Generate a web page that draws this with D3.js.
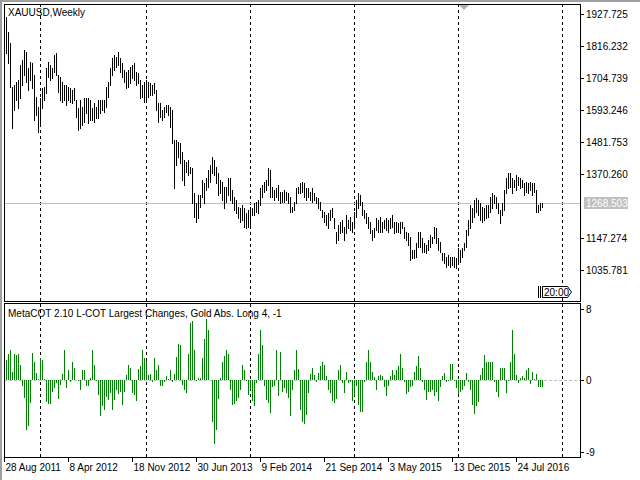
<!DOCTYPE html>
<html>
<head>
<meta charset="utf-8">
<script src="https://cdn.jsdelivr.net/npm/d3@7"></script>
<style>
  body { margin: 0; background: #fff; }
  svg text { font-family: "Liberation Sans", Arial, sans-serif; font-size: 10px; fill: #000; }
</style>
</head>
<body>
<svg id="chart" width="640" height="480"></svg>
<script>
// Weekly XAUUSD highs / lows, bar 0 = 28 Aug 2011
const highs = [1917,1865,1827,1673,1680,1691,1698,1750,1768,1802,1795,1740,1761,1757,1715,1639,1604,1635,1670,1673,
  1740,1761,1750,1740,1785,1792,1715,1708,1691,1680,1680,1673,1670,1663,1670,1628,1600,1628,1604,1635,
  1635,1635,1628,1600,1618,1604,1628,1628,1628,1628,1673,1691,1740,1774,1785,1778,1795,1774,1757,1733,
  1726,1733,1743,1750,1757,1726,1722,1698,1680,1691,1698,1691,1687,1680,1687,1663,1618,1618,1593,1604,
  1611,1611,1604,1593,1489,1489,1482,1478,1447,1419,1412,1419,1395,1391,1304,1269,1297,1297,1349,1339,
  1356,1384,1402,1430,1419,1395,1374,1349,1342,1325,1325,1356,1356,1315,1290,1280,1255,1252,1262,1252,
  1234,1245,1255,1252,1269,1273,1280,1322,1332,1342,1349,1391,1384,1325,1315,1322,1332,1308,1308,1315,
  1308,1304,1290,1255,1273,1322,1325,1339,1342,1339,1322,1322,1308,1322,1304,1290,1287,1273,1245,1238,
  1227,1234,1245,1252,1217,1168,1193,1203,1210,1186,1227,1210,1221,1203,1238,1280,1304,1297,1273,1245,
  1234,1221,1203,1175,1182,1217,1210,1221,1203,1210,1217,1210,1217,1227,1203,1203,1200,1203,1203,1186,
  1168,1165,1151,1106,1106,1130,1168,1168,1147,1130,1123,1140,1158,1151,1186,1182,1147,1133,1095,1095,
  1081,1088,1081,1081,1081,1078,1113,1106,1113,1130,1175,1210,1262,1252,1280,1287,1280,1269,1255,1252,
  1262,1262,1290,1304,1297,1290,1269,1245,1269,1315,1356,1374,1374,1356,1349,1367,1360,1356,1349,1339,
  1342,1339,1342,1339,1339,1315,1262,1269,1269];
const lows = [1792,1757,1673,1531,1593,1628,1600,1635,1680,1715,1691,1663,1698,1670,1558,1576,1517,1548,1600,1628,
  1653,1708,1698,1705,1726,1715,1656,1628,1621,1628,1611,1628,1621,1618,1628,1569,1524,1531,1541,1551,
  1583,1548,1558,1558,1551,1565,1565,1583,1593,1586,1604,1639,1680,1715,1733,1743,1750,1726,1708,1691,
  1670,1673,1687,1705,1698,1680,1687,1635,1639,1621,1628,1639,1646,1646,1653,1593,1551,1569,1558,1569,
  1586,1576,1534,1478,1322,1402,1430,1409,1349,1332,1377,1367,1374,1269,1221,1203,1217,1255,1290,1269,
  1315,1325,1342,1374,1367,1339,1297,1304,1280,1252,1273,1297,1280,1269,1245,1234,1217,1203,1210,1186,
  1182,1186,1182,1227,1227,1238,1234,1262,1290,1308,1315,1332,1290,1290,1280,1290,1280,1269,1273,1273,
  1280,1269,1238,1238,1245,1269,1304,1304,1308,1290,1280,1290,1280,1273,1280,1269,1252,1245,1221,1203,
  1193,1182,1210,1221,1182,1130,1140,1165,1168,1140,1165,1182,1175,1168,1182,1221,1252,1262,1227,1217,
  1200,1182,1165,1140,1151,1175,1168,1168,1168,1182,1175,1168,1182,1186,1165,1168,1168,1165,1182,1147,
  1140,1123,1071,1078,1078,1081,1116,1116,1099,1099,1095,1106,1116,1130,1147,1130,1106,1099,1071,1060,
  1046,1053,1046,1053,1046,1043,1060,1064,1081,1106,1116,1158,1182,1203,1221,1238,1227,1210,1203,1210,
  1217,1221,1238,1252,1269,1252,1234,1200,1227,1245,1304,1322,1325,1304,1325,1315,1332,1322,1325,1297,
  1308,1304,1315,1297,1308,1238,1238,1245,1255];
// MetaCOT Largest Changes, Gold Abs. Long
const cot = [2.5,3.3,3.75,1.0,3.3,3.1,3.25,1.9,-0.8,-2.2,-6.25,-5.8,-2.9,3.4,2.3,0.9,0.1,2.7,2.5,0.1,
  -2.7,-3.0,-3.0,-1.5,-1.0,-0.4,-2.4,-0.6,0.75,3.75,-1.0,1.2,-0.2,2.2,1.5,0,-0.1,-1.3,1.3,1.25,
  -0.75,-0.75,0.2,3.75,1.9,-0.1,-1.9,-4.5,-3.25,-3.7,-2.1,-2.5,-1.6,-3.75,-2.5,-1.25,-1.7,-1.5,-3.1,-1.5,
  0.6,1.9,1.5,-1.6,-1.9,-2.6,1.4,1.75,3.7,2.8,2.4,0.6,0.75,-0.2,2.7,1.2,1.9,-0.75,-0.8,-0.3,
  0.5,0.1,1.2,-0.2,0.8,2.9,4.5,4.4,-0.6,-1.25,-1.6,3.3,7.1,7.4,3.75,-0.1,0.3,0.2,2.8,5.1,
  7.6,6.2,0.05,-5.2,-8.0,-6.25,-2.4,0.2,2.3,3.0,3.7,3.25,-1.25,-3.1,-3.0,-2.6,-2.2,-1.25,1.9,1.3,
  -0.1,-1.9,-1.25,-2.6,-3.25,-0.4,3.3,6.3,4.4,-0.8,-2.5,-2.9,-4.1,-0.9,-0.8,3.8,-2.0,3.5,-1.5,-1.0,
  -1.6,-2.3,-4.5,-1.3,1.25,3.8,1.4,-3.8,-5.3,-5.5,-4.4,-1.6,0.75,1.5,0.6,-0.2,0.9,1.7,2.2,1.9,
  0.5,-1.3,-1.6,-2.6,-2.9,-2.4,1.25,1.9,-0.4,-1.6,1.0,-0.4,-0.2,-2.6,-2.0,-0.75,-3.1,-4.0,-4.0,-0.2,
  2.3,3.8,2.3,1.0,0.4,-1.3,0.5,0.6,0.5,-0.9,-2.0,-0.8,0.5,1.2,0.6,1.3,1.75,3.25,1.5,-0.3,
  -1.75,-1.5,-0.9,-0.75,1.0,1.7,3.0,1.5,-0.3,-1.3,-2.5,-1.5,-1.5,-1.3,-2.0,-1.5,-2.6,-0.9,0.5,0.9,
  -0.2,-0.1,2.0,2.0,-0.1,-1.0,-1.75,-1.5,-1.25,-0.8,0.9,-0.2,-1.2,-3.1,-4.2,-3.3,-2.7,0.6,1.5,3.1,
  2.3,2.3,2.2,2.3,-0.2,-1.5,-2.1,1.5,1.5,1.5,-1.6,-0.1,2.3,6.2,3.25,0.6,-0.4,0.2,0.5,0.3,
  1.3,1.5,-0.5,1.0,0.1,0.75,-0.9,-0.9,-0.9];
const dateLabels = ["28 Aug 2011","8 Apr 2012","18 Nov 2012","30 Jun 2013","9 Feb 2014",
  "21 Sep 2014","3 May 2015","13 Dec 2015","24 Jul 2016"];
const dateIdx = [0,32,64,96,128,160,192,224,256];
const gridIdx = [17,70,122,174,226,278];
const priceTicks = [1927.725,1816.232,1704.739,1593.246,1481.753,1370.260,1258.767,1147.274,1035.781];
const lastPrice = 1268.503;
const cotTicks = [[8.9,"8"],[0,"0"],[-9,"-9"]];

const svg = d3.select("#chart");
const L = 4, R = 580, T = 4, SEP = 302, B = 458;

const x = d3.scaleLinear().domain([0, 287]).range([6, 580]);
const y = d3.scaleLinear().domain([1035.781, 1927.725]).range([270, 14]);
const yc = d3.scaleLinear().domain([-9, 8]).range([452, 316]);
const px = i => Math.round(x(i)) + 0.5;

// window edge
svg.append("rect").attr("width", 640).attr("height", 480).attr("fill", "#fff");
svg.append("path").attr("d", "M1,480V1H640").attr("stroke", "#a0a0a0").attr("stroke-width", 2).attr("fill", "none");

// grid (year separators)
svg.append("g").selectAll("line").data(gridIdx).join("line")
  .attr("x1", d => px(d)).attr("x2", d => px(d)).attr("y1", T).attr("y2", B)
  .attr("stroke", "#000").attr("stroke-dasharray", "3,3");

// last price line
svg.append("line").attr("x1", L).attr("x2", R).attr("y1", Math.round(y(lastPrice)) + 0.5).attr("y2", Math.round(y(lastPrice)) + 0.5)
  .attr("stroke", "#c0c0c0");

// price bars
svg.append("g").selectAll("line").data(highs).join("line")
  .attr("x1", (d, i) => px(i)).attr("x2", (d, i) => px(i))
  .attr("y1", d => Math.round(y(d))).attr("y2", (d, i) => Math.round(y(lows[i])) + 1)
  .attr("stroke", "#000").attr("stroke-width", 1);

// cot zero line
svg.append("line").attr("x1", L).attr("x2", R).attr("y1", yc(0) + 0.5).attr("y2", yc(0) + 0.5)
  .attr("stroke", "#c0c0c0").attr("stroke-dasharray", "3,2");

// cot histogram
svg.append("g").selectAll("line").data(cot).join("line")
  .attr("x1", (d, i) => px(i)).attr("x2", (d, i) => px(i))
  .attr("y1", yc(0)).attr("y2", d => Math.round(yc(d)))
  .attr("stroke", "#008000").attr("stroke-width", 1);

// frames
svg.append("rect").attr("x", L + 0.5).attr("y", T + 0.5).attr("width", R - L).attr("height", SEP - T - 1)
  .attr("fill", "none").attr("stroke", "#000");
svg.append("rect").attr("x", L + 0.5).attr("y", SEP + 1.5).attr("width", R - L).attr("height", B - SEP - 2)
  .attr("fill", "none").attr("stroke", "#000");

// price axis
const pa = svg.append("g");
priceTicks.forEach(v => {
  if (Math.abs(v - lastPrice) < 15) return;
  const yy = Math.round(y(v)) + 0.5;
  pa.append("line").attr("x1", R).attr("x2", R + 4).attr("y1", yy).attr("y2", yy).attr("stroke", "#000");
  pa.append("text").attr("x", R + 6).attr("y", yy + 3.5).text(v.toFixed(3));
});
const ly = Math.round(y(lastPrice));
pa.append("rect").attr("x", R + 4).attr("y", ly - 6).attr("width", 44).attr("height", 12).attr("fill", "#c0c0c0");
pa.append("text").attr("x", R + 6).attr("y", ly + 4).style("fill", "#fff").text(lastPrice.toFixed(3));

// cot axis
cotTicks.forEach(([v, t]) => {
  const yy = Math.round(yc(v)) + 0.5;
  pa.append("line").attr("x1", R).attr("x2", R + 4).attr("y1", yy).attr("y2", yy).attr("stroke", "#000");
  pa.append("text").attr("x", R + 6).attr("y", yy + 3.5).text(t);
});

// date axis
dateIdx.forEach((d, k) => {
  const xx = px(d) - 2;
  pa.append("line").attr("x1", xx).attr("x2", xx).attr("y1", B).attr("y2", B + 4).attr("stroke", "#000");
  pa.append("text").attr("x", xx + 1).attr("y", 471).text(dateLabels[k]);
});

// titles
svg.append("text").attr("x", 8).attr("y", 16).text("XAUUSD,Weekly");
svg.append("text").attr("x", 8).attr("y", 317).text("MetaCOT 2.10 L-COT Largest Changes, Gold Abs. Long 4, -1");

// shift marker and timer box
svg.append("path").attr("d", "M459,5H469L464,10Z").attr("fill", "#b0b0b0");
svg.append("path").attr("d", "M538.5,286V298M540.5,286V298").attr("stroke", "#000");
svg.append("path").attr("d", "M542.5,286.5H567.5L571.5,292L567.5,297.5H542.5Z").attr("fill", "#fff").attr("stroke", "#000");
svg.append("text").attr("x", 544).attr("y", 296).text("20:00");
</script>
</body>
</html>
